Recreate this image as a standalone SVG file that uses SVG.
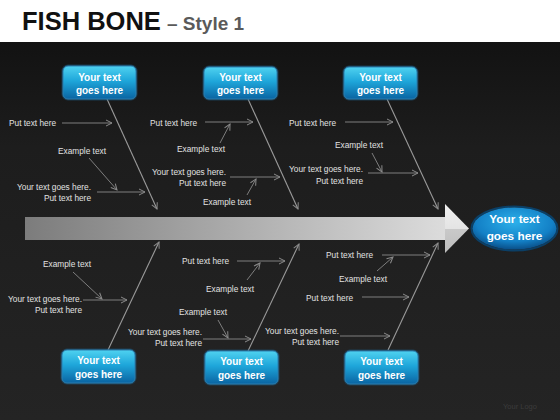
<svg xmlns="http://www.w3.org/2000/svg" width="560" height="420" viewBox="0 0 560 420">
  <defs>
    <linearGradient id="bg" x1="0" y1="0" x2="0" y2="1">
      <stop offset="0" stop-color="#0e0e0e"/>
      <stop offset="0.35" stop-color="#1d1d1d"/>
      <stop offset="1" stop-color="#242424"/>
    </linearGradient>
    <linearGradient id="boxg" x1="0" y1="0" x2="0" y2="1">
      <stop offset="0" stop-color="#4fd2f0"/>
      <stop offset="0.45" stop-color="#1ea6da"/>
      <stop offset="1" stop-color="#0a64a2"/>
    </linearGradient>
    <radialGradient id="ellg" cx="0.5" cy="0.35" r="0.65">
      <stop offset="0" stop-color="#2cb0ea"/>
      <stop offset="0.7" stop-color="#1380c6"/>
      <stop offset="1" stop-color="#0a4f88"/>
    </radialGradient>
    <linearGradient id="shaft" x1="0" y1="0" x2="1" y2="0">
      <stop offset="0" stop-color="#7c7c7c"/>
      <stop offset="1" stop-color="#dcdcdc"/>
    </linearGradient>
    <linearGradient id="head" x1="0" y1="0" x2="0" y2="1">
      <stop offset="0" stop-color="#f0f0f0"/>
      <stop offset="0.5" stop-color="#e4e4e4"/>
      <stop offset="0.52" stop-color="#c9c9c9"/>
      <stop offset="1" stop-color="#bdbdbd"/>
    </linearGradient>
    <marker id="ah" viewBox="0 0 8 8" refX="7" refY="4" markerWidth="8" markerHeight="8" markerUnits="userSpaceOnUse" orient="auto">
      <path d="M1,1 L7,4 L1,7" fill="none" stroke="#8a8a8a" stroke-width="1"/>
    </marker>
    <style>
      .lbl{font-family:"Liberation Sans",Arial,sans-serif;font-size:8.3px;fill:#e2e2e2}
      .r{text-anchor:end}
      .ln{stroke:#7e7e7e;stroke-width:1;fill:none;marker-end:url(#ah)}
      .bone{stroke:#9a9a9a;stroke-width:1.1;fill:none;marker-end:url(#ah)}
      .box{fill:url(#boxg);stroke:#2b7fb0;stroke-width:1}
      .glow{fill:none;stroke:#1d5d85;stroke-opacity:0.5;stroke-width:3}
      .bt{font-family:"Liberation Sans",Arial,sans-serif;font-weight:bold;font-size:10px;fill:#ffffff;text-anchor:middle}
    </style>
  </defs>

  <rect x="0" y="0" width="560" height="420" fill="url(#bg)"/>
  <rect x="0" y="0" width="560" height="42" fill="#ffffff"/>

  <g id="title">
    <text x="22" y="30" font-family="'Liberation Sans',Arial,sans-serif" font-weight="bold" font-size="25.5" fill="#111111">FISH BONE</text>
    <text x="167" y="30" font-family="'Liberation Sans',Arial,sans-serif" font-weight="bold" font-size="19" fill="#5a5a5a">– Style 1</text>
  </g>

  <g id="spine">
    <polygon points="25,217 446,217 446,240 25,240" fill="url(#shaft)"/>
    <polygon points="445,204 469,228.5 445,253" fill="url(#head)"/>
  </g>

  <g id="connectors">
    <line class="bone" x1="107" y1="99" x2="157" y2="209"/>
    <line class="bone" x1="248" y1="99" x2="298" y2="209"/>
    <line class="bone" x1="387" y1="99" x2="438" y2="209"/>
    <line class="bone" x1="108" y1="350" x2="159" y2="242"/>
    <line class="bone" x1="248" y1="351" x2="299" y2="244"/>
    <line class="bone" x1="388" y1="350" x2="438" y2="243"/>

    <line class="ln" x1="62" y1="123" x2="112" y2="123"/>
    <line class="ln" x1="89" y1="158" x2="117" y2="190"/>
    <line class="ln" x1="97" y1="192" x2="145" y2="192"/>

    <line class="ln" x1="205" y1="122" x2="253" y2="122"/>
    <line class="ln" x1="220" y1="143" x2="230" y2="124"/>
    <line class="ln" x1="230" y1="177" x2="280" y2="177"/>
    <line class="ln" x1="247" y1="195" x2="256" y2="179"/>

    <line class="ln" x1="345" y1="122" x2="393" y2="122"/>
    <line class="ln" x1="372" y1="153" x2="382" y2="172"/>
    <line class="ln" x1="368" y1="173" x2="418" y2="173"/>

    <line class="ln" x1="73" y1="272" x2="102" y2="299"/>
    <line class="ln" x1="83" y1="300" x2="127" y2="300"/>

    <line class="ln" x1="237" y1="261" x2="285" y2="261"/>
    <line class="ln" x1="247" y1="280" x2="260" y2="263"/>
    <line class="ln" x1="218" y1="320" x2="228" y2="338"/>
    <line class="ln" x1="203" y1="339" x2="251" y2="339"/>

    <line class="ln" x1="382" y1="255" x2="430" y2="255"/>
    <line class="ln" x1="377" y1="271" x2="393" y2="257"/>
    <line class="ln" x1="362" y1="297" x2="409" y2="297"/>
    <line class="ln" x1="340" y1="336" x2="390" y2="336"/>
  </g>

  <g id="box-top-1">
    <rect class="glow" x="63" y="66" width="73" height="33" rx="5"/>
    <rect class="box" x="63" y="66" width="73" height="33" rx="5"/>
    <text class="bt" x="99.5" y="81">Your text</text>
    <text class="bt" x="99.5" y="94">goes here</text>
  </g>
  <g id="box-top-2">
    <rect class="glow" x="204" y="67" width="73" height="32" rx="5"/>
    <rect class="box" x="204" y="67" width="73" height="32" rx="5"/>
    <text class="bt" x="240.5" y="81">Your text</text>
    <text class="bt" x="240.5" y="94">goes here</text>
  </g>
  <g id="box-top-3">
    <rect class="glow" x="344" y="67" width="73" height="32" rx="5"/>
    <rect class="box" x="344" y="67" width="73" height="32" rx="5"/>
    <text class="bt" x="380.5" y="81">Your text</text>
    <text class="bt" x="380.5" y="94">goes here</text>
  </g>
  <g id="box-bottom-1">
    <rect class="glow" x="62" y="350" width="73" height="33" rx="5"/>
    <rect class="box" x="62" y="350" width="73" height="33" rx="5"/>
    <text class="bt" x="98.5" y="364">Your text</text>
    <text class="bt" x="98.5" y="378">goes here</text>
  </g>
  <g id="box-bottom-2">
    <rect class="glow" x="205" y="351" width="73" height="33" rx="5"/>
    <rect class="box" x="205" y="351" width="73" height="33" rx="5"/>
    <text class="bt" x="241.5" y="365">Your text</text>
    <text class="bt" x="241.5" y="379">goes here</text>
  </g>
  <g id="box-bottom-3">
    <rect class="glow" x="345" y="351" width="73" height="33" rx="5"/>
    <rect class="box" x="345" y="351" width="73" height="33" rx="5"/>
    <text class="bt" x="381.5" y="365">Your text</text>
    <text class="bt" x="381.5" y="379">goes here</text>
  </g>

  <g id="head-node">
    <ellipse cx="514.5" cy="228.5" rx="43" ry="22" fill="none" stroke="#0b3f66" stroke-width="2"/>
    <ellipse cx="514.5" cy="228.5" rx="42" ry="21" fill="url(#ellg)"/>
    <text x="514.5" y="223" font-family="'Liberation Sans',Arial,sans-serif" font-weight="bold" font-size="11.8" fill="#ffffff" text-anchor="middle">Your text</text>
    <text x="514.5" y="240" font-family="'Liberation Sans',Arial,sans-serif" font-weight="bold" font-size="11.8" fill="#ffffff" text-anchor="middle">goes here</text>
  </g>

  <g id="labels-top-1">
    <text class="lbl" x="9" y="126">Put text here</text>
    <text class="lbl" x="58" y="154">Example text</text>
    <text class="lbl r" x="91" y="190">Your text goes here.</text>
    <text class="lbl r" x="91" y="201">Put text here</text>
  </g>
  <g id="labels-top-2">
    <text class="lbl" x="150" y="126">Put text here</text>
    <text class="lbl" x="177" y="152">Example text</text>
    <text class="lbl r" x="226" y="175">Your text goes here.</text>
    <text class="lbl r" x="226" y="186">Put text here</text>
    <text class="lbl" x="203" y="205">Example text</text>
  </g>
  <g id="labels-top-3">
    <text class="lbl" x="289" y="126">Put text here</text>
    <text class="lbl" x="335" y="148">Example text</text>
    <text class="lbl r" x="363" y="172">Your text goes here.</text>
    <text class="lbl r" x="363" y="184">Put text here</text>
  </g>
  <g id="labels-bottom-1">
    <text class="lbl" x="43" y="267">Example text</text>
    <text class="lbl r" x="82" y="302">Your text goes here.</text>
    <text class="lbl r" x="82" y="313">Put text here</text>
  </g>
  <g id="labels-bottom-2">
    <text class="lbl" x="182" y="264">Put text here</text>
    <text class="lbl" x="206" y="292">Example text</text>
    <text class="lbl" x="179" y="315">Example text</text>
    <text class="lbl r" x="202" y="335">Your text goes here.</text>
    <text class="lbl r" x="202" y="346">Put text here</text>
  </g>
  <g id="labels-bottom-3">
    <text class="lbl" x="326" y="258">Put text here</text>
    <text class="lbl" x="339" y="282">Example text</text>
    <text class="lbl" x="306" y="301">Put text here</text>
    <text class="lbl r" x="339" y="334">Your text goes here.</text>
    <text class="lbl r" x="339" y="345">Put text here</text>
  </g>

  <g id="logo">
    <text x="503" y="409" font-family="'Liberation Sans',Arial,sans-serif" font-size="7.5" fill="#3c3c3c">Your Logo</text>
  </g>
</svg>
